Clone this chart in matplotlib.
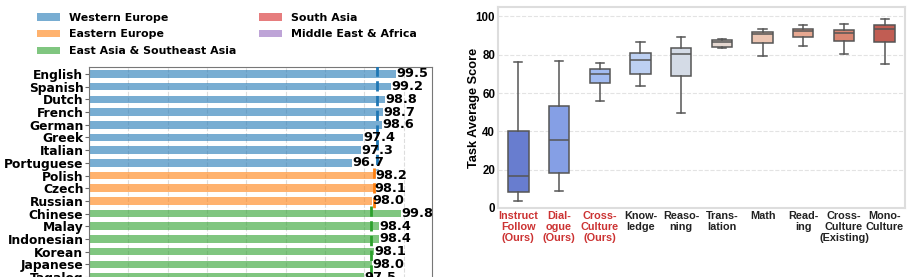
import matplotlib.pyplot as plt
import seaborn as sns
from matplotlib.patches import Patch
from matplotlib.ticker import MultipleLocator

# left panel: per-language scores
languages = ["English", "Spanish", "Dutch", "French", "German", "Greek", "Italian",
             "Portuguese", "Polish", "Czech", "Russian", "Chinese", "Malay",
             "Indonesian", "Korean", "Japanese", "Tagalog"]
scores = [99.5, 99.2, 98.8, 98.7, 98.6, 97.4, 97.3, 96.7,
          98.2, 98.1, 98.0, 99.8, 98.4, 98.4, 98.1, 98.0, 97.5]
regions = ["Western Europe"] * 8 + ["Eastern Europe"] * 3 + ["East Asia & Southeast Asia"] * 6
region_names = ["Western Europe", "Eastern Europe", "East Asia & Southeast Asia",
                "South Asia", "Middle East & Africa"]
region_colors = ["tab:blue", "tab:orange", "tab:green", "tab:red", "tab:purple"]
# group averages (the East Asia group continues below the visible rows)
region_means = [98.28, 98.1, 97.95]

# right panel: task score distributions
tasks = ["Instruct\nFollow\n(Ours)", "Dial-\nogue\n(Ours)", "Cross-\nCulture\n(Ours)",
         "Know-\nledge", "Reaso-\nning", "Trans-\nlation", "Math", "Read-\ning",
         "Cross-\nCulture\n(Existing)", "Mono-\nCulture"]
ours = [True, True, True, False, False, False, False, False, False, False]
whislo = [3.5, 8.9, 55.6, 63.9, 49.5, 83.3, 79.4, 84.6, 80.5, 75.2]
q1 = [8.4, 18.3, 65.2, 69.9, 69.0, 84.0, 86.1, 89.0, 87.4, 86.4]
med = [16.7, 35.7, 70.0, 77.5, 80.3, 86.7, 90.8, 92.3, 91.3, 93.2]
q3 = [40.2, 53.1, 72.6, 81.0, 83.6, 87.8, 91.8, 93.5, 93.0, 95.5]
whishi = [76.3, 76.8, 75.8, 86.6, 89.0, 88.3, 93.5, 95.3, 95.8, 98.4]

fig = plt.figure(figsize=(9.12, 2.77), dpi=100)

# ---- left: horizontal bars ----
ax1 = fig.add_axes([89 / 912, -0.1834, 343 / 912, 0.9426])
color_of = dict(zip(region_names, region_colors))
ypos = list(range(len(languages)))
ax1.barh(ypos, scores, height=0.6, color=[color_of[r] for r in regions], alpha=0.6, zorder=2)
for y, v in zip(ypos, scores):
    ax1.text(v + 0.03, y, f"{v:.1f}", va="center", ha="left", fontsize=9.3,
             fontweight="bold", zorder=4)
for name, mean in zip(region_names, region_means):
    idx = [i for i, r in enumerate(regions) if r == name]
    last = idx[-1] + 0.6 if name != "East Asia & Southeast Asia" else 20
    ax1.vlines(mean, idx[0] - 0.6, last, colors=color_of[name], linestyles="--",
               linewidth=2, zorder=3)
ax1.set_xlim(80, 101.8)
ax1.set_ylim(20, -0.575)
ax1.set_yticks(ypos)
ax1.set_yticklabels(languages, fontsize=8.8, fontweight="bold")
ax1.xaxis.set_major_locator(MultipleLocator(2.5))
ax1.grid(axis="x", linestyle="--", color="#dddddd", linewidth=0.8, zorder=0)
ax1.tick_params(axis="y", length=3, pad=1, color="#666666")
ax1.tick_params(axis="x", labelbottom=False)
for s in ax1.spines.values():
    s.set_color("#777777")

handles = [Patch(facecolor=c, alpha=0.6, label=n) for n, c in zip(region_names, region_colors)]
fig.legend(handles=handles, loc="upper left", bbox_to_anchor=(0.030, 0.99), ncol=2,
           frameon=False, prop={"weight": "bold", "size": 7.9}, handlelength=2.1,
           labelspacing=0.62, columnspacing=2.05)

# ---- right: box plot ----
ax2 = fig.add_axes([498 / 912, 1 - 208 / 277, 407 / 912, 201 / 277])
stats = [dict(whislo=a, q1=b, med=c, q3=d, whishi=e, fliers=[])
         for a, b, c, d, e in zip(whislo, q1, med, q3, whishi)]
palette = sns.color_palette("coolwarm", len(tasks), desat=0.75)
edge = "#555555"
bp = ax2.bxp(stats, positions=range(len(tasks)), widths=0.5, patch_artist=True,
             capwidths=0.2,
             boxprops=dict(edgecolor=edge, linewidth=1.1),
             medianprops=dict(color=edge, linewidth=1.1),
             whiskerprops=dict(color=edge, linewidth=1.1),
             capprops=dict(color=edge, linewidth=1.1), zorder=3)
for patch, col in zip(bp["boxes"], palette):
    patch.set_facecolor(col)
ax2.set_xlim(-0.5, len(tasks) - 0.5)
ax2.set_ylim(0, 104.9)
ax2.set_yticks(range(0, 101, 20))
ax2.grid(axis="y", linestyle="--", color="#e3e3e3", linewidth=0.8, zorder=0)
ax2.set_xticks(range(len(tasks)))
ax2.set_xticklabels(tasks, fontsize=7.85, fontweight="bold", family="Liberation Sans",
                    linespacing=1.15)
for lab, flag in zip(ax2.get_xticklabels(), ours):
    lab.set_color("#cc3333" if flag else "#222222")
for lab in ax2.get_yticklabels():
    lab.set_fontsize(8.3)
    lab.set_fontweight("bold")
    lab.set_family("Liberation Sans")
ax2.tick_params(axis="both", length=0, pad=2)
ax2.set_ylabel("Task Average Score", fontsize=9.2, fontweight="bold",
               family="Liberation Sans", labelpad=-3)
for s in ax2.spines.values():
    s.set_color("#dddddd")
    s.set_linewidth(1.5)

fig.savefig("out.png", dpi=100)
